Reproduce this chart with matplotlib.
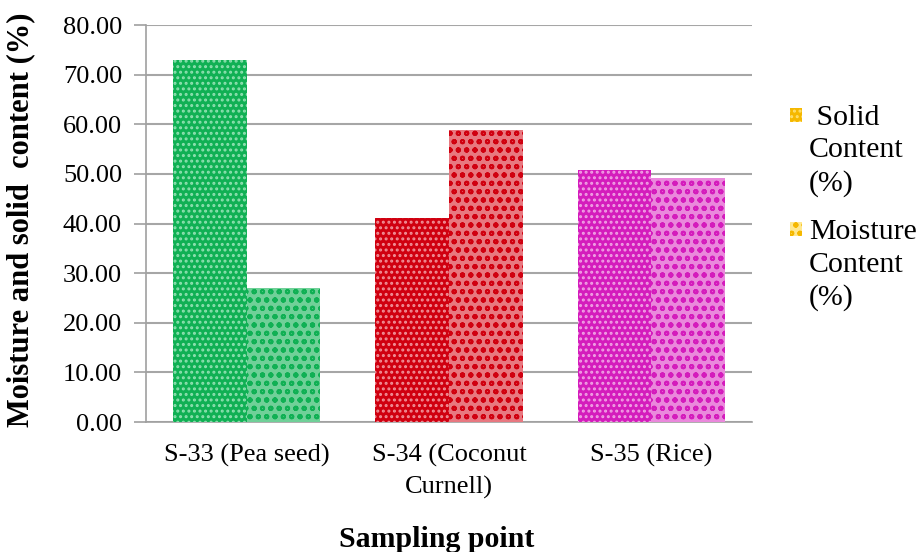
import numpy as np
import matplotlib.pyplot as plt
from matplotlib.patches import Rectangle

plt.rcParams['font.family'] = ['Liberation Serif', 'DejaVu Serif']
plt.rcParams['hatch.linewidth'] = 1.4

# sample data
samples = ['S-33 (Pea seed)', 'S-34 (Coconut\nCurnell)', 'S-35 (Rice)']
solid = [73.0, 41.2, 50.8]
moisture = [27.0, 58.8, 49.2]
colors = ['#10b054', '#d00010', '#d41cbc']
dots = ['#8ee0b0', '#f09098', '#f0a0e4']
tints = ['#70d098', '#e87880', '#ea88dc']

fig = plt.figure(figsize=(9.22, 5.52), dpi=100)
ax = fig.add_axes([0.158, 0.2355, 0.658, 0.719])

x = np.arange(len(samples))
w = 0.364
for i in range(len(samples)):
    ax.bar(x[i] - w / 2, solid[i], w, color=colors[i], edgecolor=dots[i],
           hatch='...', linewidth=0, zorder=3)
    ax.bar(x[i] + w / 2, moisture[i], w, color=tints[i], edgecolor=colors[i],
           hatch='oo', linewidth=0, zorder=3)

ax.set_xlim(-0.5, 2.5)
ax.set_ylim(0, 80)
ax.set_yticks(np.arange(0, 81, 10))
ax.set_yticklabels([f'{v:.2f}' for v in np.arange(0, 81, 10)], fontsize=19)
ax.set_xticks(x)
ax.set_xticklabels(samples, fontsize=19, linespacing=1.5)
ax.tick_params(axis='x', length=0, pad=16)
ax.tick_params(axis='y', length=9, color='#a0a0a0', width=1.2, pad=8)
ax.grid(axis='y', color='#a6a6a6', linewidth=1.5, zorder=0)
for s in ['top', 'right']:
    ax.spines[s].set_visible(False)
for s in ['left', 'bottom']:
    ax.spines[s].set_color('#a0a0a0')
    ax.spines[s].set_linewidth(1.2)

ax.set_ylabel('Moisture and solid  content (%)', fontsize=22, fontweight='bold')
ax.yaxis.set_label_coords(-0.182, 0.51)
ax.set_xlabel('Sampling point', fontsize=21.5, fontweight='bold')
ax.xaxis.set_label_coords(0.48, -0.262)

# legend, markers beside the first line of each entry
leg_items = [(' Solid\nContent\n(%)', '#f5b800', '#ffe070', '...', 0.792),
             ('Moisture\nContent\n(%)', '#ffe890', '#f5b800', 'oo', 0.585)]
for label, fc, ec, hatch, ymid in leg_items:
    fig.add_artist(Rectangle((790 / 922, ymid - 7 / 552), 12 / 922, 14 / 552,
                             transform=fig.transFigure, facecolor=fc,
                             edgecolor=ec, hatch=hatch, linewidth=0))
    fig.text(809 / 922, ymid + 0.018, label, fontsize=21.5, va='top',
             ha='left', linespacing=1.33)

fig.savefig('out.png', dpi=100)
